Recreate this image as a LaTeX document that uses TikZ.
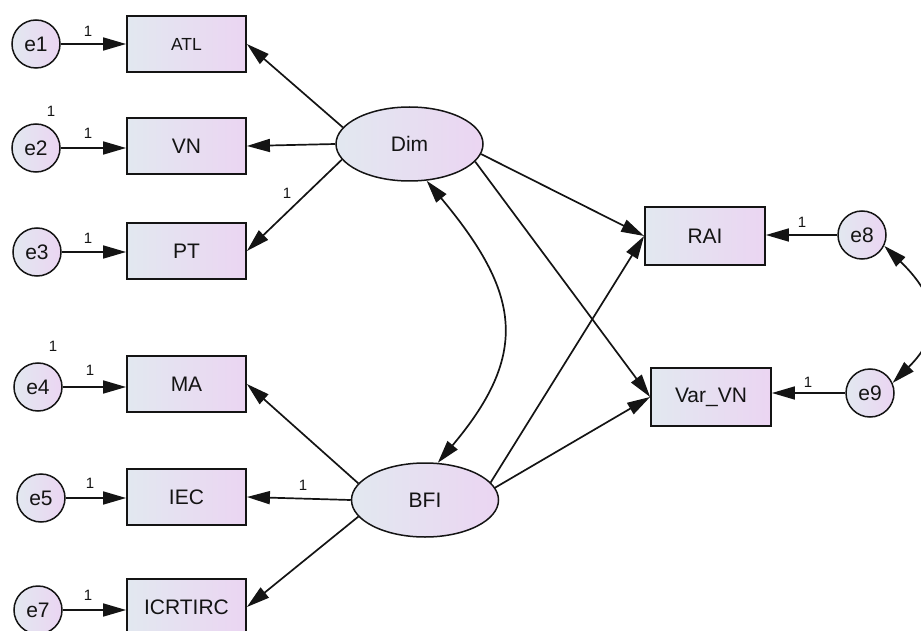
\documentclass[tikz,border=0pt]{standalone}
\usepackage{fontspec}
\setmainfont{Liberation Sans}
\usetikzlibrary{arrows.meta,shapes.geometric}
\definecolor{fillL}{RGB}{226,232,240}
\definecolor{fillR}{RGB}{235,213,242}
\definecolor{ink}{RGB}{20,20,20}
\begin{document}
\begin{tikzpicture}[x=1pt,y=-1pt,
  obs/.style={rectangle, draw=ink, line width=1.8pt, left color=fillL, right color=fillR,
    minimum width=119pt, minimum height=56pt, inner sep=0pt,
    font=\fontsize{21}{21}\selectfont, text=ink},
  lat/.style={ellipse, draw=ink, line width=1.5pt, left color=fillL, right color=fillR,
    minimum width=147pt, minimum height=74pt, inner sep=0pt,
    font=\fontsize{21}{21}\selectfont, text=ink},
  err/.style={circle, draw=ink, line width=1.5pt, left color=fillL, right color=fillR,
    minimum size=48pt, inner sep=0pt, font=\fontsize{21}{21}\selectfont, text=ink},
  regpath/.style={draw=ink, line width=1.7pt, -{Triangle[length=23pt,width=13pt]}},
  covpath/.style={draw=ink, line width=1.7pt, {Triangle[length=23pt,width=13pt]}-{Triangle[length=23pt,width=13pt]}},
  wt/.style={font=\fontsize{15}{15}\selectfont, inner sep=0pt, text=ink}
]
\useasboundingbox (0,0) rectangle (921,631);
\clip (0,0) rectangle (921,631);

% observed variables
\node[obs, font=\fontsize{17.5}{18}\selectfont] (ATL) at (186.5,44) {ATL};
\node[obs] (VN) at (186.5,146) {VN};
\node[obs] (PT) at (186.5,251) {PT};
\node[obs] (MA) at (186.5,384) {MA};
\node[obs] (IEC) at (186.5,497) {IEC};
\node[obs] (ICR) at (186.5,607) {ICRTIRC};
\node[obs, minimum width=120pt, minimum height=58pt] (RAI) at (705,236) {RAI};
\node[obs, minimum width=120pt, minimum height=58pt] (VarVN) at (711,397) {Var\_VN};

% latent variables
\node[lat] (Dim) at (409.5,144) {Dim};
\node[lat] (BFI) at (425,500) {BFI};

% errors
\node[err] (e1) at (36,44) {e1};
\node[err] (e2) at (36,148) {e2};
\node[err] (e3) at (37,252) {e3};
\node[err] (e4) at (38,387) {e4};
\node[err] (e5) at (41,498) {e5};
\node[err] (e7) at (38,610) {e7};
\node[err] (e8) at (862,235) {e8};
\node[err] (e9) at (870,393) {e9};

% error paths
\draw[regpath] (e1) -- (e1 -| ATL.west);
\draw[regpath] (e2) -- (e2 -| VN.west);
\draw[regpath] (e3) -- (e3 -| PT.west);
\draw[regpath] (e4) -- (e4 -| MA.west);
\draw[regpath] (e5) -- (e5 -| IEC.west);
\draw[regpath] (e7) -- (e7 -| ICR.west);
\draw[regpath] (e8) -- (e8 -| RAI.east);
\draw[regpath] (e9) -- (e9 -| VarVN.east);

% loadings
\draw[regpath] (Dim.166) -- (ATL.east);
\draw[regpath] (Dim.west) -- (VN.east);
\draw[regpath] (Dim.193) -- (PT.east);
\draw[regpath] (BFI.166) -- (MA.east);
\draw[regpath] (BFI.west) -- (IEC.east);
\draw[regpath] (BFI.194) -- (ICR.east);

% structural paths
\draw[regpath] (Dim.352) -- (RAI.west);
\draw[regpath] (Dim.345) -- (VarVN.west);
\draw[regpath] (BFI.15) -- (RAI.west);
\draw[regpath] (BFI.10) -- (VarVN.west);

% covariances
\draw[covpath] (Dim.295) .. controls (519.6,292.3) and (530.6,352.7) .. (BFI.71);
\draw[covpath] (e8.334) .. controls (938,298) and (944,332) .. (e9.24);

% weights
\node[wt] (w1) at (88,31) {1};
\node[wt] (w2v) at (51,111) {1};
\node[wt] (w2) at (88,133) {1};
\node[wt] (w3) at (88,238) {1};
\node[wt] (wPT) at (287,193) {1};
\node[wt] (w4v) at (53,346) {1};
\node[wt] (w4) at (90,370) {1};
\node[wt] (w5) at (90,483) {1};
\node[wt] (w7) at (88,595) {1};
\node[wt] (wIEC) at (303,485) {1};
\node[wt] (w8) at (802,222) {1};
\node[wt] (w9) at (808,382) {1};
\end{tikzpicture}
\end{document}
